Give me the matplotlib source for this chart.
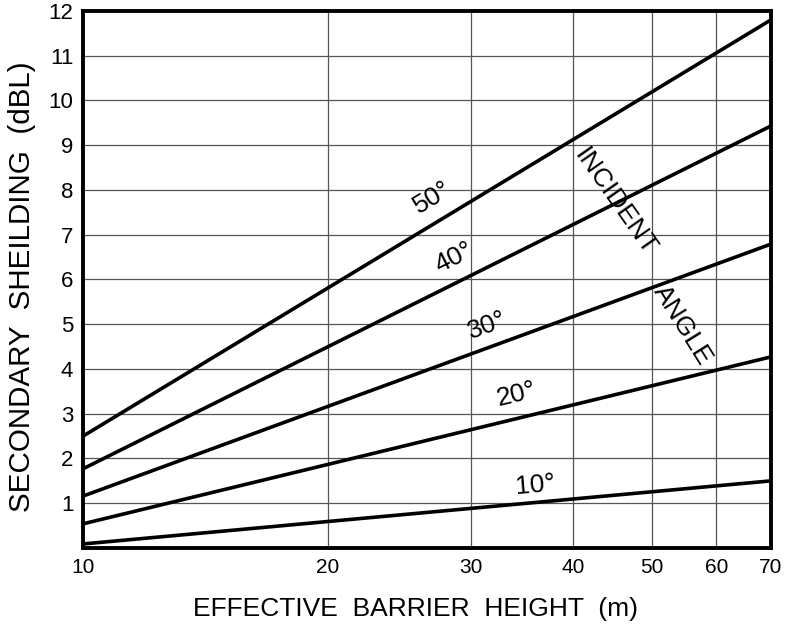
import numpy as np
import matplotlib
matplotlib.use("Agg")
import matplotlib.pyplot as plt
from matplotlib.ticker import FixedLocator, NullLocator

plt.rcParams['font.family'] = ['Liberation Sans', 'DejaVu Sans']

# barrier height (m), endpoints of each straight (log-x) line
height = [10, 70]
angles = ['10°', '20°', '30°', '40°', '50°']
shield_10 = [0.09, 1.50]
shield_20 = [0.54, 4.27]
shield_30 = [1.16, 6.79]
shield_40 = [1.77, 9.43]
shield_50 = [2.50, 11.80]
series = [shield_10, shield_20, shield_30, shield_40, shield_50]

x_ticks = [10, 20, 30, 40, 50, 60, 70]
y_ticks = list(range(1, 13))

# label placement (data coords) and rotation
label_x = [35.9, 34.1, 31.4, 28.6, 26.9]
label_y = [1.41, 3.42, 4.98, 6.48, 7.82]
label_rot = [5, 13.6, 20, 26.5, 31]

fig = plt.figure(figsize=(7.87, 6.27), dpi=100)
ax = fig.add_axes([0.1055, 0.126, 0.874, 0.8565])

for ys in series:
    ax.plot(height, ys, color='black', lw=2.6, solid_capstyle='butt')

ax.set_xscale('log')
ax.set_xlim(10, 70)
ax.set_ylim(0, 12)
ax.xaxis.set_major_locator(FixedLocator(x_ticks))
ax.xaxis.set_minor_locator(NullLocator())
ax.set_xticklabels([str(v) for v in x_ticks])
ax.set_yticks(y_ticks)
ax.tick_params(length=0, pad=7)
ax.tick_params(axis='x', labelsize=15)
ax.tick_params(axis='y', labelsize=16)
ax.grid(True, color='#555555', lw=0.9)

for sp in ax.spines.values():
    sp.set_linewidth(2.8)

for lab, lx, ly, rot in zip(angles, label_x, label_y, label_rot):
    ax.text(lx, ly, lab, fontsize=19, rotation=rot, ha='center', va='center')

ax.text(45.0, 7.73, 'INCIDENT', fontsize=19, rotation=-55, ha='center', va='center')
ax.text(54.6, 4.98, 'ANGLE', fontsize=19, rotation=-58, ha='center', va='center')

ax.set_xlabel('EFFECTIVE  BARRIER  HEIGHT  (m)', fontsize=19)
ax.xaxis.set_label_coords(0.483, -0.091)
ax.set_ylabel('SECONDARY  SHEILDING  (dBL)', fontsize=21.3)
ax.yaxis.set_label_coords(-0.068, 0.486)

fig.savefig('out.png', dpi=100)
